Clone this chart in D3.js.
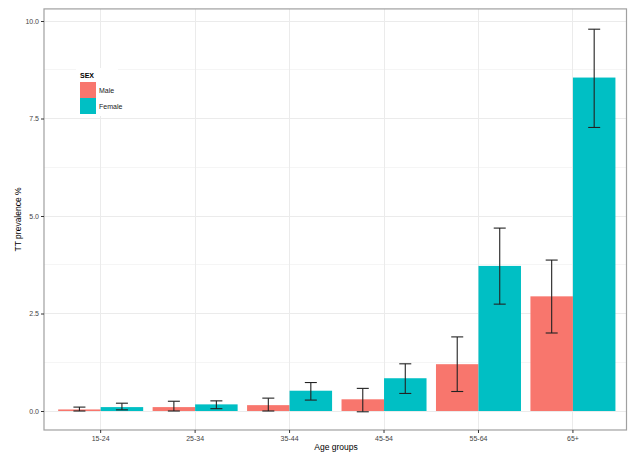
<!DOCTYPE html>
<html lang="en">

<head>
    <meta charset="UTF-8">
    <title>TT prevalence by age group</title>
    <style>
        body {
            margin: 0;
            background: #fff;
        }

        text {
            font-family: "Liberation Sans", Arial, sans-serif;
        }

        .axis text {
            font-size: 7px;
            fill: #444;
        }

        .axis line {
            stroke: #333;
        }

        .axis path {
            display: none;
        }

        .grid line {
            stroke: #ebebeb;
            shape-rendering: crispEdges;
        }

        .grid .minor {
            stroke: #f5f5f5;
        }
    </style>
</head>

<body>
    <svg class="chart"></svg>
    <script src="https://d3js.org/d3.v7.min.js"></script>
    <script>
        // data
        const ageGroups = ["15-24", "25-34", "35-44", "45-54", "55-64", "65+"];
        const sexes = ["Male", "Female"];
        const maleValues = [0.04, 0.10, 0.15, 0.30, 1.20, 2.94];
        const maleLower = [0.00, 0.00, 0.00, -0.02, 0.50, 2.00];
        const maleUpper = [0.10, 0.25, 0.33, 0.58, 1.90, 3.87];
        const femaleValues = [0.10, 0.17, 0.52, 0.84, 3.72, 8.55];
        const femaleLower = [0.03, 0.06, 0.28, 0.45, 2.74, 7.27];
        const femaleUpper = [0.20, 0.26, 0.73, 1.21, 4.69, 9.79];
        const yTicks = [0, 2.5, 5, 7.5, 10];
        const yMinorTicks = [1.25, 3.75, 6.25, 8.75];

        const width = 628, height = 453;
        const colors = { Male: "#F8766D", Female: "#00BFC4" };

        let rows = ageGroups.map((g, i) => ({
            group: g,
            bars: [
                { sex: "Male", value: maleValues[i], lo: maleLower[i], hi: maleUpper[i] },
                { sex: "Female", value: femaleValues[i], lo: femaleLower[i], hi: femaleUpper[i] }
            ]
        }));

        let svg = d3.select(".chart")
            .attr("width", width)
            .attr("height", height);

        // panel edges (scale runs a bit past the visible right border, as in the picture)
        let pLeft = 44, pRight = 629.6, pEdge = 626.5;

        let y = d3.scaleLinear()
            .domain([0, 10])
            .range([411, 21]);
        let pTop = y(10.31), pBottom = y(-0.487);

        let x = d3.scaleBand()
            .domain(ageGroups)
            .range([pLeft, pRight])
            .paddingInner(0)
            .paddingOuter(0.1);

        let x1 = d3.scaleBand()
            .domain(sexes)
            .range([x.bandwidth() * 0.05, x.bandwidth() * 0.95]);

        // grid
        let grid = svg.append("g").attr("class", "grid");
        grid.selectAll(".minor")
            .data(yMinorTicks)
            .enter().append("line")
            .attr("class", "minor")
            .attr("x1", pLeft).attr("x2", pEdge)
            .attr("y1", d => y(d)).attr("y2", d => y(d));
        grid.selectAll(".major")
            .data(yTicks)
            .enter().append("line")
            .attr("class", "major")
            .attr("x1", pLeft).attr("x2", pEdge)
            .attr("y1", d => y(d)).attr("y2", d => y(d));
        grid.selectAll(".vmajor")
            .data(ageGroups)
            .enter().append("line")
            .attr("class", "vmajor")
            .attr("x1", d => x(d) + x.bandwidth() / 2)
            .attr("x2", d => x(d) + x.bandwidth() / 2)
            .attr("y1", pTop).attr("y2", pBottom);

        // bars
        let group = svg.selectAll(".group")
            .data(rows)
            .enter().append("g")
            .attr("class", "group")
            .attr("transform", d => `translate(${x(d.group)},0)`);

        group.selectAll("rect")
            .data(d => d.bars)
            .enter().append("rect")
            .attr("x", d => x1(d.sex))
            .attr("width", x1.bandwidth())
            .attr("y", d => Math.min(y(d.value), y(0)))
            .attr("height", d => Math.abs(y(0) - y(d.value)))
            .attr("fill", d => colors[d.sex]);

        // error bars
        let capHalf = 6;
        let err = group.selectAll(".err")
            .data(d => d.bars)
            .enter().append("g")
            .attr("class", "err")
            .attr("stroke", "#222")
            .attr("stroke-width", 1.1);
        err.append("line")
            .attr("x1", d => x1(d.sex) + x1.bandwidth() / 2)
            .attr("x2", d => x1(d.sex) + x1.bandwidth() / 2)
            .attr("y1", d => y(d.lo))
            .attr("y2", d => y(d.hi));
        err.append("line")
            .attr("x1", d => x1(d.sex) + x1.bandwidth() / 2 - capHalf)
            .attr("x2", d => x1(d.sex) + x1.bandwidth() / 2 + capHalf)
            .attr("y1", d => y(d.hi))
            .attr("y2", d => y(d.hi));
        err.append("line")
            .attr("x1", d => x1(d.sex) + x1.bandwidth() / 2 - capHalf)
            .attr("x2", d => x1(d.sex) + x1.bandwidth() / 2 + capHalf)
            .attr("y1", d => y(d.lo))
            .attr("y2", d => y(d.lo));

        // panel border
        svg.append("rect")
            .attr("x", pLeft)
            .attr("y", pTop)
            .attr("width", pEdge - pLeft)
            .attr("height", pBottom - pTop)
            .attr("fill", "none")
            .attr("stroke", "#a0a0a0")
            .attr("stroke-width", 1.2);

        // axes
        svg.append("g")
            .attr("class", "axis axis--y")
            .attr("transform", `translate(${pLeft},0)`)
            .call(d3.axisLeft(y).tickValues(yTicks).tickFormat(d3.format(".1f")).tickSize(3).tickPadding(2));

        svg.append("g")
            .attr("class", "axis axis--x")
            .attr("transform", `translate(0,${pBottom})`)
            .call(d3.axisBottom(x).tickSize(3).tickPadding(3));

        svg.append("text")
            .attr("transform", `translate(21,${(pTop + pBottom) / 2}) rotate(-90)`)
            .attr("text-anchor", "middle")
            .style("font-size", "8.5px")
            .text("TT prevalence %");

        svg.append("text")
            .attr("x", (pLeft + 628) / 2)
            .attr("y", 450)
            .attr("text-anchor", "middle")
            .style("font-size", "8.5px")
            .text("Age groups");

        // legend
        let legend = svg.append("g")
            .attr("transform", "translate(80,70)");
        legend.append("rect")
            .attr("x", -4).attr("y", -2)
            .attr("width", 42).attr("height", 48)
            .attr("fill", "#fff");
        legend.append("text")
            .attr("x", 0).attr("y", 8)
            .style("font-size", "7px")
            .style("font-weight", "bold")
            .text("SEX");
        let item = legend.selectAll(".item")
            .data(sexes)
            .enter().append("g")
            .attr("class", "item")
            .attr("transform", (d, i) => `translate(0,${12 + i * 16})`);
        item.append("rect")
            .attr("width", 16).attr("height", 16)
            .attr("fill", d => colors[d]);
        item.append("text")
            .attr("x", 19).attr("y", 10.5)
            .style("font-size", "7px")
            .attr("fill", "#222")
            .text(d => d);
    </script>
</body>

</html>
